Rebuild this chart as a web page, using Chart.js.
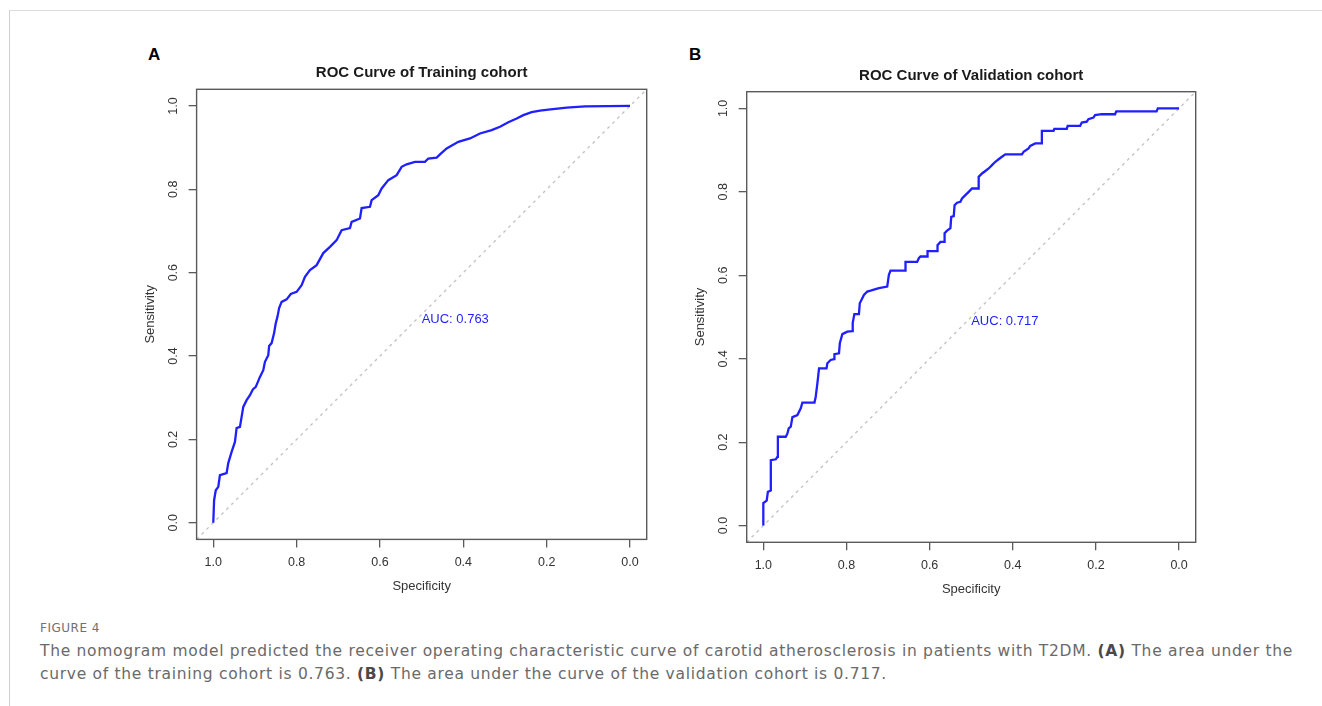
<!DOCTYPE html>
<html>
<head>
<meta charset="utf-8">
<script src="https://cdn.jsdelivr.net/npm/chart.js@4.4.1/dist/chart.umd.min.js"></script>
<style>
  html, body { margin: 0; padding: 0; background: #fff; }
  body { width: 1322px; height: 706px; position: relative; overflow: hidden; font-family: "Liberation Sans", Arial, sans-serif; }
  .frame { position: absolute; left: 9px; top: 10px; right: -2px; bottom: -2px; border-top: 1px solid #dcdcdc; border-left: 1px solid #cfcfcf; }
  .panel { position: absolute; }
  .letter { position: absolute; font-family: "Liberation Sans", Arial, sans-serif; font-weight: bold; font-size: 17px; color: #000; line-height: 1; }
  .figlabel { position: absolute; left: 40px; top: 620px; font-family: "DejaVu Sans", sans-serif; font-size: 12px; color: #707070; line-height: 16px; white-space: nowrap; }
  .caption { position: absolute; left: 40px; top: 640px; font-family: "DejaVu Sans", sans-serif; font-size: 15.5px; color: #6a6a6a; line-height: 23px; white-space: nowrap; }
  .caption b { color: #4a4a4a; }
</style>
</head>
<body>
<div class="frame"></div>
<div class="letter" style="left:148px; top:46px;">A</div>
<div class="letter" style="left:689px; top:46px;">B</div>
<canvas id="cA" class="panel" width="520" height="570" style="left:140px; top:40px;"></canvas>
<canvas id="cB" class="panel" width="520" height="570" style="left:690px; top:40px;"></canvas>
<div class="figlabel" id="figlabel">FIGURE 4</div>
<div class="caption" id="caption"><span id="capLine1">The nomogram model predicted the receiver operating characteristic curve of carotid atherosclerosis in patients with T2DM. <b>(A)</b> The area under the</span><br><span id="capLine2">curve of the training cohort is 0.763. <b>(B)</b> The area under the curve of the validation cohort is 0.717.</span></div>

<script>
// ---------------- data ----------------
const tickValues = [1.0, 0.8, 0.6, 0.4, 0.2, 0.0];
const tickLabels = ['1.0', '0.8', '0.6', '0.4', '0.2', '0.0'];

const titleA = 'ROC Curve of Training cohort';
const titleB = 'ROC Curve of Validation cohort';
const aucLabelA = 'AUC: 0.763';
const aucLabelB = 'AUC: 0.717';

// Training cohort ROC (specificity, sensitivity)
const trainSpec = [1.000, 0.998, 0.994, 0.988, 0.984, 0.968, 0.964, 0.956, 0.948, 0.944,
  0.936, 0.932, 0.928, 0.920, 0.912, 0.905, 0.898, 0.888, 0.880, 0.876,
  0.868, 0.866, 0.860, 0.854, 0.850, 0.846, 0.842, 0.836, 0.824, 0.814,
  0.800, 0.788, 0.780, 0.768, 0.752, 0.736, 0.720, 0.704, 0.692, 0.672,
  0.668, 0.648, 0.644, 0.624, 0.620, 0.604, 0.596, 0.580, 0.560, 0.548,
  0.536, 0.516, 0.492, 0.484, 0.464, 0.456, 0.440, 0.412, 0.384, 0.360,
  0.332, 0.312, 0.292, 0.272, 0.256, 0.236, 0.216, 0.196, 0.152, 0.108, 0.000];
const trainSens = [0.000, 0.054, 0.078, 0.086, 0.114, 0.119, 0.143, 0.170, 0.194, 0.227,
  0.230, 0.254, 0.278, 0.294, 0.306, 0.320, 0.326, 0.350, 0.366, 0.386,
  0.402, 0.424, 0.431, 0.455, 0.479, 0.494, 0.515, 0.530, 0.536, 0.549,
  0.554, 0.570, 0.590, 0.606, 0.618, 0.647, 0.662, 0.678, 0.702, 0.707,
  0.722, 0.730, 0.755, 0.758, 0.774, 0.786, 0.802, 0.822, 0.834, 0.854,
  0.860, 0.866, 0.866, 0.874, 0.876, 0.884, 0.898, 0.914, 0.922, 0.934,
  0.942, 0.950, 0.961, 0.970, 0.978, 0.985, 0.989, 0.991, 0.996, 0.999, 1.000];

// Validation cohort ROC (specificity, sensitivity)
const validSpec = [1.000, 1.000, 0.992, 0.989, 0.982, 0.982, 0.970, 0.966, 0.965, 0.946,
  0.942, 0.939, 0.934, 0.930, 0.918, 0.910, 0.906, 0.877, 0.874, 0.870,
  0.866, 0.848, 0.846, 0.838, 0.830, 0.829, 0.818, 0.816, 0.810, 0.798,
  0.786, 0.785, 0.781, 0.770, 0.768, 0.758, 0.750, 0.742, 0.722, 0.702,
  0.698, 0.694, 0.658, 0.658, 0.630, 0.626, 0.622, 0.606, 0.605, 0.582,
  0.581, 0.574, 0.564, 0.564, 0.558, 0.550, 0.548, 0.542, 0.540, 0.534,
  0.526, 0.522, 0.514, 0.506, 0.498, 0.482, 0.482, 0.474, 0.466, 0.458,
  0.450, 0.442, 0.434, 0.426, 0.418, 0.378, 0.374, 0.362, 0.358, 0.346,
  0.330, 0.330, 0.302, 0.300, 0.270, 0.268, 0.238, 0.234, 0.222, 0.218,
  0.206, 0.202, 0.186, 0.154, 0.151, 0.054, 0.051, 0.000];
const validSens = [0.000, 0.054, 0.060, 0.081, 0.084, 0.157, 0.159, 0.165, 0.213, 0.213,
  0.221, 0.233, 0.237, 0.260, 0.265, 0.281, 0.295, 0.295, 0.309, 0.341,
  0.377, 0.377, 0.389, 0.397, 0.399, 0.411, 0.413, 0.437, 0.459, 0.465,
  0.466, 0.486, 0.507, 0.507, 0.533, 0.553, 0.561, 0.563, 0.569, 0.573,
  0.601, 0.611, 0.611, 0.632, 0.632, 0.641, 0.645, 0.645, 0.658, 0.658,
  0.672, 0.680, 0.680, 0.701, 0.707, 0.713, 0.740, 0.742, 0.768, 0.774,
  0.776, 0.784, 0.792, 0.800, 0.808, 0.808, 0.836, 0.844, 0.850, 0.856,
  0.864, 0.872, 0.878, 0.884, 0.890, 0.890, 0.896, 0.904, 0.910, 0.916,
  0.916, 0.946, 0.946, 0.951, 0.951, 0.958, 0.958, 0.966, 0.968, 0.974,
  0.978, 0.984, 0.986, 0.986, 0.993, 0.993, 1.000, 1.000];

// chance diagonal (sensitivity = 1 - specificity), across the whole plot region
const diagSpec = [1.04, -0.04];
const diagSens = [-0.04, 1.04];

// ---------------- caption fitting (text widths measured in the reference) ----------------
function fitLetterSpacing(el, measureEl, targetWidth) {
  const w = measureEl.getBoundingClientRect().width;
  const n = measureEl.textContent.length;
  if (n > 1) el.style.letterSpacing = ((targetWidth - w) / n).toFixed(3) + 'px';
}
fitLetterSpacing(document.getElementById('caption'), document.getElementById('capLine1'), 1253);
fitLetterSpacing(document.getElementById('figlabel'), document.getElementById('figlabel'), 60);

// ---------------- styling / layout ----------------
const FONT = '"Liberation Sans", Arial, Helvetica, sans-serif';
const CURVE_COLOR = '#1f1fff';
const AXIS_COLOR = '#5a5a5a';
const TEXT_COLOR = '#333333';

function toPts(xs, ys) { return xs.map((x, i) => ({ x: x, y: ys[i] })); }
function labelFor(v) {
  const i = tickValues.findIndex(t => Math.abs(t - v) < 1e-9);
  return i >= 0 ? tickLabels[i] : '';
}

const decorPlugin = {
  id: 'rDecor',
  afterDraw(chart, args, opts) {
    const ctx = chart.ctx;
    const a = chart.chartArea;
    const xs = chart.scales.x, ys = chart.scales.y;
    ctx.save();
    ctx.strokeStyle = AXIS_COLOR;
    ctx.lineWidth = 1.4;
    ctx.strokeRect(a.left, a.top, a.right - a.left, a.bottom - a.top);
    ctx.fillStyle = '#1a1a1a';
    ctx.font = 'bold 15px ' + FONT;
    ctx.textAlign = 'center';
    ctx.textBaseline = 'middle';
    ctx.fillText(opts.title, (a.left + a.right) / 2, opts.titleY);
    ctx.fillStyle = TEXT_COLOR;
    ctx.font = '13px ' + FONT;
    ctx.fillText('Specificity', (a.left + a.right) / 2, opts.xTitleY);
    ctx.save();
    ctx.translate(opts.yTitleX, (a.top + a.bottom) / 2);
    ctx.rotate(-Math.PI / 2);
    ctx.fillText('Sensitivity', 0, 0);
    ctx.restore();
    ctx.fillStyle = CURVE_COLOR;
    ctx.font = '13px ' + FONT;
    ctx.textAlign = 'left';
    ctx.fillText(opts.auc, xs.getPixelForValue(0.5), ys.getPixelForValue(0.489));
    ctx.restore();
  }
};

function makeChart(canvasId, spec, sens, geom, title, auc) {
  const ctx = document.getElementById(canvasId);
  return new Chart(ctx, {
    type: 'scatter',
    data: {
      datasets: [
        {
          data: toPts(diagSpec, diagSens),
          showLine: true,
          borderColor: '#c4c4c4',
          borderWidth: 1.4,
          borderDash: [3, 4],
          pointRadius: 0,
          fill: false,
          order: 2
        },
        {
          data: toPts(spec, sens),
          showLine: true,
          borderColor: CURVE_COLOR,
          borderWidth: 2.3,
          pointRadius: 0,
          fill: false,
          tension: 0,
          order: 1
        }
      ]
    },
    options: {
      responsive: false,
      animation: false,
      devicePixelRatio: 1,
      events: [],
      layout: { padding: { left: 0, top: geom.top, right: geom.right, bottom: 0 } },
      plugins: {
        legend: { display: false },
        tooltip: { enabled: false },
        rDecor: { title: title, auc: auc, titleY: geom.titleY, xTitleY: geom.xTitleY, yTitleX: geom.yTitleX }
      },
      scales: {
        x: {
          type: 'linear',
          reverse: true,
          min: -0.04,
          max: 1.04,
          afterBuildTicks: s => { s.ticks = tickValues.map(v => ({ value: v })); },
          afterFit: s => { s.height = geom.xAxisH; },
          ticks: {
            callback: v => labelFor(v),
            font: { family: FONT, size: 12.5 },
            color: TEXT_COLOR,
            padding: 8,
            autoSkip: false,
            maxRotation: 0,
            minRotation: 0
          },
          grid: { drawOnChartArea: false, drawTicks: true, tickLength: 8, color: AXIS_COLOR, lineWidth: 1.3 },
          border: { display: false }
        },
        y: {
          type: 'linear',
          min: -0.04,
          max: 1.04,
          afterBuildTicks: s => { s.ticks = tickValues.map(v => ({ value: v })); },
          afterFit: s => { s.width = geom.yAxisW; },
          ticks: {
            callback: v => labelFor(v),
            font: { family: FONT, size: 12.5 },
            color: TEXT_COLOR,
            padding: 6,
            autoSkip: false,
            minRotation: 90,
            maxRotation: 90,
            crossAlign: 'center'
          },
          grid: { drawOnChartArea: false, drawTicks: true, tickLength: 8, color: AXIS_COLOR, lineWidth: 1.3 },
          border: { display: false }
        }
      }
    },
    plugins: [decorPlugin]
  });
}

makeChart('cA', trainSpec, trainSens,
  { top: 49.3, right: 13.3, yAxisW: 56.6, xAxisH: 70.6, titleY: 33.3, xTitleY: 546.7, yTitleX: 10 },
  titleA, aucLabelA);
makeChart('cB', validSpec, validSens,
  { top: 51.7, right: 14.3, yAxisW: 56.7, xAxisH: 67.7, titleY: 36, xTitleY: 549.3, yTitleX: 10 },
  titleB, aucLabelB);
</script>
</body>
</html>
